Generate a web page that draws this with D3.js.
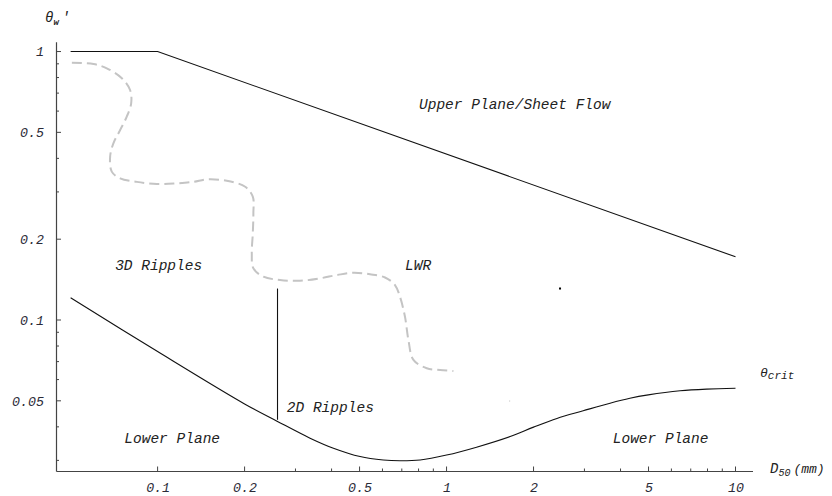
<!DOCTYPE html>
<html>
<head>
<meta charset="utf-8">
<script src="https://cdn.jsdelivr.net/npm/d3@7"></script>
<style>
  html, body { margin: 0; padding: 0; background: #fff; }
  svg { display: block; }
  text { font-family: "Liberation Mono", "Courier New", monospace; font-style: italic; }
</style>
</head>
<body>
<svg id="chart" width="832" height="496"></svg>
<script>
// ---- data (D50 in mm, theta_w') ----
const upperD = [0.05, 0.1, 10];
const upperTheta = [1, 1, 0.172];

const critD = [0.05, 0.1, 0.2, 0.259, 0.337, 0.406, 0.502, 0.604, 0.690, 0.810, 1.0, 1.27, 1.66, 2.0, 2.41, 2.97, 3.68, 4.31, 4.99, 6.43, 7.95, 10];
const critTheta = [0.121, 0.0763, 0.0487, 0.0420, 0.0363, 0.0333, 0.0310, 0.0301, 0.0299, 0.0301, 0.0314, 0.0336, 0.0368, 0.0399, 0.0430, 0.0459, 0.0490, 0.0511, 0.0526, 0.0545, 0.0553, 0.0557];

const lwrD = [0.0505, 0.0600, 0.0667, 0.0752, 0.0803, 0.0810, 0.0782, 0.0742, 0.0703, 0.0685, 0.0694, 0.0742, 0.0848, 0.0994, 0.1165, 0.133, 0.148, 0.1735, 0.201, 0.2135, 0.2145, 0.2135, 0.2118, 0.2145, 0.2323, 0.2653, 0.311, 0.365, 0.417, 0.476, 0.5436, 0.6124, 0.663, 0.690, 0.718, 0.738, 0.768, 0.854, 0.950, 1.056];
const lwrTheta = [0.908, 0.898, 0.866, 0.795, 0.719, 0.641, 0.572, 0.510, 0.455, 0.406, 0.357, 0.337, 0.327, 0.321, 0.323, 0.327, 0.334, 0.330, 0.3135, 0.288, 0.2496, 0.210, 0.177, 0.1558, 0.145, 0.141, 0.140, 0.143, 0.147, 0.150, 0.148, 0.144, 0.135, 0.122, 0.1028, 0.0842, 0.0710, 0.0661, 0.0651, 0.0646];

const dividerD = [0.26, 0.26];
const dividerTheta = [0.131, 0.0425];

const dotD = [2.47, 1.66];
const dotTheta = [0.131, 0.0497];

const xMajorTicks = [0.1, 0.2, 0.5, 1, 2, 5, 10];
const xMajorLabels = ["0.1", "0.2", "0.5", "1", "2", "5", "10"];
const xMinorTicks = [0.3, 0.4, 0.6, 0.7, 0.8, 0.9, 3, 4, 6, 7, 8, 9];
const yMajorTicks = [1, 0.5, 0.2, 0.1, 0.05];
const yMajorLabels = ["1", "0.5", "0.2", "0.1", "0.05"];
const yMinorTicks = [0.9, 0.8, 0.7, 0.6, 0.4, 0.3, 0.09, 0.08, 0.07, 0.06, 0.04, 0.03];

const regionNames = ["Upper Plane/Sheet Flow", "3D Ripples", "LWR", "2D Ripples", "Lower Plane", "Lower Plane"];
const regionD = [0.803, 0.0713, 0.718, 0.280, 0.0767, 3.76];
const regionTheta = [0.611, 0.1535, 0.1535, 0.0453, 0.0347, 0.0347];

// ---- layout ----
const svg = d3.select("#chart");
const x = d3.scaleLog().domain([0.0445, 11.45]).range([56, 752.5]);
const y = d3.scaleLog().domain([0.02739, 1.088]).range([471, 41.7]);
const x0 = x.range()[0], y0 = y.range()[0];

const axisColor = "#444";
const tickLabelColor = "#2b2b38";

// x axis
const xAxis = d3.axisBottom(x).tickValues(xMajorTicks).tickSize(0).tickFormat((d, i) => xMajorLabels[i]);
const gx = svg.append("g").attr("transform", `translate(0,${y0})`).call(xAxis);
gx.select(".domain").attr("stroke", axisColor).attr("stroke-width", 1.2);
gx.selectAll(".tick text").attr("dy", null).attr("y", 21)
  .style("font-size", "13.3px").attr("fill", tickLabelColor);
gx.selectAll(".tick-major").data(xMajorTicks).enter().append("line")
  .attr("x1", d => x(d)).attr("x2", d => x(d)).attr("y1", 0).attr("y2", -4.5)
  .attr("stroke", axisColor);
gx.selectAll(".tick-minor").data(xMinorTicks).enter().append("line")
  .attr("x1", d => x(d)).attr("x2", d => x(d)).attr("y1", 0).attr("y2", -2.5)
  .attr("stroke", axisColor);

// y axis
const yAxis = d3.axisLeft(y).tickValues(yMajorTicks).tickSize(0).tickFormat((d, i) => yMajorLabels[i]);
const gy = svg.append("g").attr("transform", `translate(${x0},0)`).call(yAxis);
gy.select(".domain").attr("stroke", axisColor).attr("stroke-width", 1.2);
gy.selectAll(".tick text").attr("x", -12).attr("dy", "0.32em")
  .style("font-size", "13.3px").attr("fill", tickLabelColor);
gy.selectAll(".tick-major").data(yMajorTicks).enter().append("line")
  .attr("y1", d => y(d)).attr("y2", d => y(d)).attr("x1", 0).attr("x2", 5)
  .attr("stroke", axisColor);
gy.selectAll(".tick-minor").data(yMinorTicks).enter().append("line")
  .attr("y1", d => y(d)).attr("y2", d => y(d)).attr("x1", 0).attr("x2", 3)
  .attr("stroke", axisColor);
svg.selectAll(".domain").attr("fill", "none");

// lines
const line = d3.line().x(d => x(d[0])).y(d => y(d[1]));
const smooth = d3.line().x(d => x(d[0])).y(d => y(d[1])).curve(d3.curveCatmullRom.alpha(0.5));

svg.append("path").datum(d3.zip(lwrD, lwrTheta))
  .attr("d", smooth).attr("fill", "none")
  .attr("stroke", "#c4c4c4").attr("stroke-width", 2)
  .attr("stroke-dasharray", "10,5");

svg.append("path").datum(d3.zip(upperD, upperTheta))
  .attr("d", line).attr("fill", "none").attr("stroke", "#111").attr("stroke-width", 1.1);

svg.append("path").datum(d3.zip(critD, critTheta))
  .attr("d", smooth).attr("fill", "none").attr("stroke", "#111").attr("stroke-width", 1.1);

svg.append("path").datum(d3.zip(dividerD, dividerTheta))
  .attr("d", line).attr("fill", "none").attr("stroke", "#111").attr("stroke-width", 1.1);

svg.selectAll(".dot").data(d3.zip(dotD, dotTheta)).enter().append("rect")
  .attr("x", d => x(d[0]) - 1).attr("y", d => y(d[1]) - 1)
  .attr("width", (d, i) => i === 0 ? 2 : 1).attr("height", (d, i) => i === 0 ? 2 : 1)
  .attr("fill", (d, i) => i === 0 ? "#000" : "#bbb");

// region labels
svg.selectAll(".region").data(d3.zip(regionNames, regionD, regionTheta)).enter().append("text")
  .attr("x", d => x(d[1])).attr("y", d => y(d[2]))
  .style("font-size", "14.5px").attr("fill", "#222")
  .text(d => d[0]);

// theta_crit label
const tc = svg.append("text").attr("x", x(12.16)).attr("y", y(0.0615)).attr("fill", "#222");
tc.append("tspan").style("font-size", "13px").text("θ");
tc.append("tspan").style("font-size", "11px").attr("dy", 2.5).text("crit");

// axis titles
const yt = svg.append("text").attr("x", 45).attr("y", 22).attr("fill", "#222");
yt.append("tspan").style("font-size", "14px").text("θ");
yt.append("tspan").style("font-size", "9px").style("font-weight", "bold").attr("dy", 2.5).text("w");
yt.append("tspan").style("font-size", "14px").attr("dy", -2.5).attr("dx", 3).text("'");

const xt = svg.append("text").attr("x", 770).attr("y", 473).attr("fill", "#222");
xt.append("tspan").style("font-size", "14px").text("D");
xt.append("tspan").style("font-size", "10px").attr("dy", 3).text("50");
xt.append("tspan").style("font-size", "13px").attr("dy", -3).attr("dx", 3).text("(mm)");
</script>
</body>
</html>
